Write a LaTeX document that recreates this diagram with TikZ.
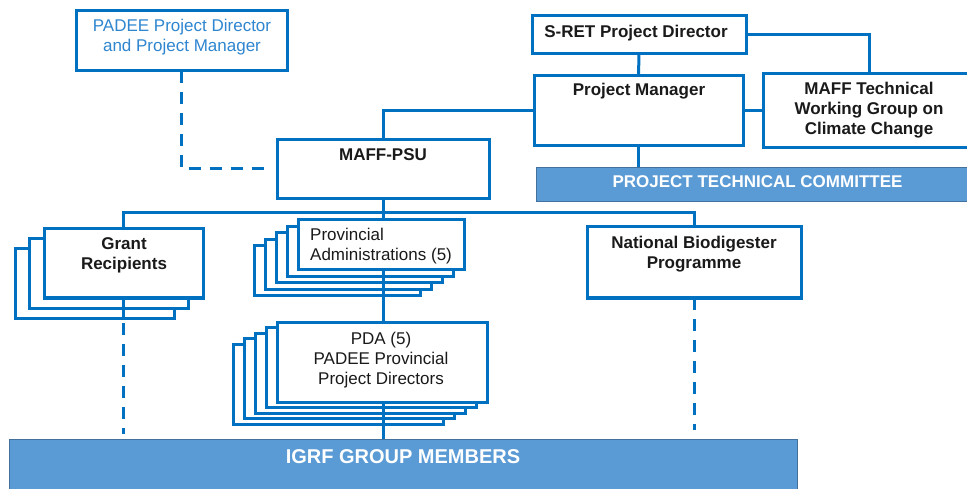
\documentclass[tikz,border=0pt]{standalone}
\usepackage{fontspec}
\setmainfont{Liberation Sans}
\usetikzlibrary{calc}
\definecolor{orgline}{HTML}{0070C0}
\definecolor{bandfill}{HTML}{5B9BD5}
\definecolor{bandedge}{HTML}{41719C}
\definecolor{padeeblue}{HTML}{2E86D0}
\definecolor{ink}{HTML}{1A1A1A}
\begin{document}
\begin{tikzpicture}[x=1pt,y=-1pt,
  box/.style={draw=orgline,line width=3pt,fill=white,inner sep=0pt,outer sep=0pt},
  band/.style={draw=bandedge,line width=0.8pt,fill=bandfill,inner sep=0pt,outer sep=0pt},
  link/.style={draw=orgline,line width=3pt},
  dlink/.style={draw=orgline,line width=3pt,dash pattern=on 12pt off 9pt},
  bold/.style={font=\fontsize{17}{20}\selectfont\bfseries,text=ink,align=center,inner sep=0pt},
  plain/.style={font=\fontsize{17}{20}\selectfont,text=ink,align=center,inner sep=0pt},
  bandtext/.style={font=\fontsize{17}{20}\selectfont\bfseries,text=white,inner sep=0pt}]
\useasboundingbox (0,0) rectangle (967,489);

% ---- top-left: PADEE management
\node[box,minimum width=211pt,minimum height=60pt] (padee) at (181.5,41) {};
\node[plain,text=padeeblue] (padeet) at (182,37) {PADEE Project Director\\and Project Manager};

% ---- top-right: S-RET management
\node[box,minimum width=214pt,minimum height=38pt] (sret) at (639,35) {};
\node[bold] (srett) at (636,33) {S-RET Project Director};
\node[box,minimum width=209pt,minimum height=70pt] (pm) at (638.5,111) {};
\node[bold] (pmt) at (639,91) {Project Manager};
\node[box,minimum width=212pt,minimum height=74pt] (twg) at (869,111) {};
\node[bold] (twgt) at (869,110) {MAFF Technical\\Working Group on\\Climate Change};
\node[band,minimum width=443pt,minimum height=34pt] (ptc) at (757.5,184) {};
\node[bandtext] (ptct) at (757.5,182) {PROJECT TECHNICAL COMMITTEE};

% ---- MAFF-PSU
\node[box,minimum width=212pt,minimum height=59pt] (psu) at (383,169.5) {};
\node[bold] (psut) at (383,155) {MAFF-PSU};

% ---- Grant recipients (stack of three)
\foreach \k in {2,1} {
  \node[box,minimum width=159pt,minimum height=69pt] (gr\k) at (123.5-14.5*\k,263.5+10*\k) {};
}
\node[box,minimum width=159pt,minimum height=69pt] (gr) at (123.5,263.5) {};
\node[bold] (grt) at (124,255) {Grant\\Recipients};

% ---- Provincial administrations (stack of five)
\foreach \k in {4,3,2,1} {
  \node[box,minimum width=166pt,minimum height=50pt] (pa\k) at (381.5-11*\k,245+6.5*\k) {};
}
\node[box,minimum width=166pt,minimum height=50pt] (pa) at (381.5,245) {};
\node[plain,align=left,anchor=west] (pat) at (310,246) {Provincial\\Administrations (5)};

% ---- PDA (stack of five)
\foreach \k in {4,3,2,1} {
  \node[box,minimum width=210pt,minimum height=80pt] (pda\k) at (382-11*\k,362+5.5*\k) {};
}
\node[box,minimum width=210pt,minimum height=80pt] (pda) at (382,362) {};
\node[plain] (pdat) at (381,360) {PDA (5)\\PADEE Provincial\\Project Directors};

% ---- National Biodigester Programme
\node[box,minimum width=214pt,minimum height=71pt] (nbp) at (694,262.5) {};
\node[bold] (nbpt) at (694,254) {National Biodigester\\Programme};

% ---- IGRF group members
\node[band,minimum width=788pt,minimum height=56pt] (igrf) at (403,467) {};
\node[bandtext,font=\fontsize{20}{24}\selectfont\bfseries] (igrft) at (403,457) {IGRF GROUP MEMBERS};

% ---- connectors
\coordinate (dashend) at (266,169);
\coordinate (bus) at (383,213);
\draw[dlink] (padee.south) |- (dashend);
\draw[link] (psu.north) |- (pm.west);
\draw[link] (sret.south) -- (pm.north);
\draw[link] (sret.east) -| (twg.north);
\draw[link] (pm.east) -- (twg.west);
\draw[link] (pm.south) -- (pm.south |- ptc.north);
\draw[link] (psu.south) -- (bus);
\draw[link] (gr.north) |- (bus) -| (nbp.north);
\draw[link] (bus) -- (bus |- pa.north);
\draw[link] (bus |- pa.south) -- (bus |- pda.north);
\draw[link] (bus |- pda.south) -- (bus |- igrf.north);
% grant line: solid across the stacked cards, dashed below them
\draw[link] (gr.south) -- (gr.south |- gr2.south);
\draw[dlink,dash phase=16pt,shorten >=5pt] (gr.south |- gr2.south) -- (gr.south |- igrf.north);
\draw[dlink,shorten >=9pt] (nbp.south) -- (nbp.south |- igrf.north);
\end{tikzpicture}
\end{document}
